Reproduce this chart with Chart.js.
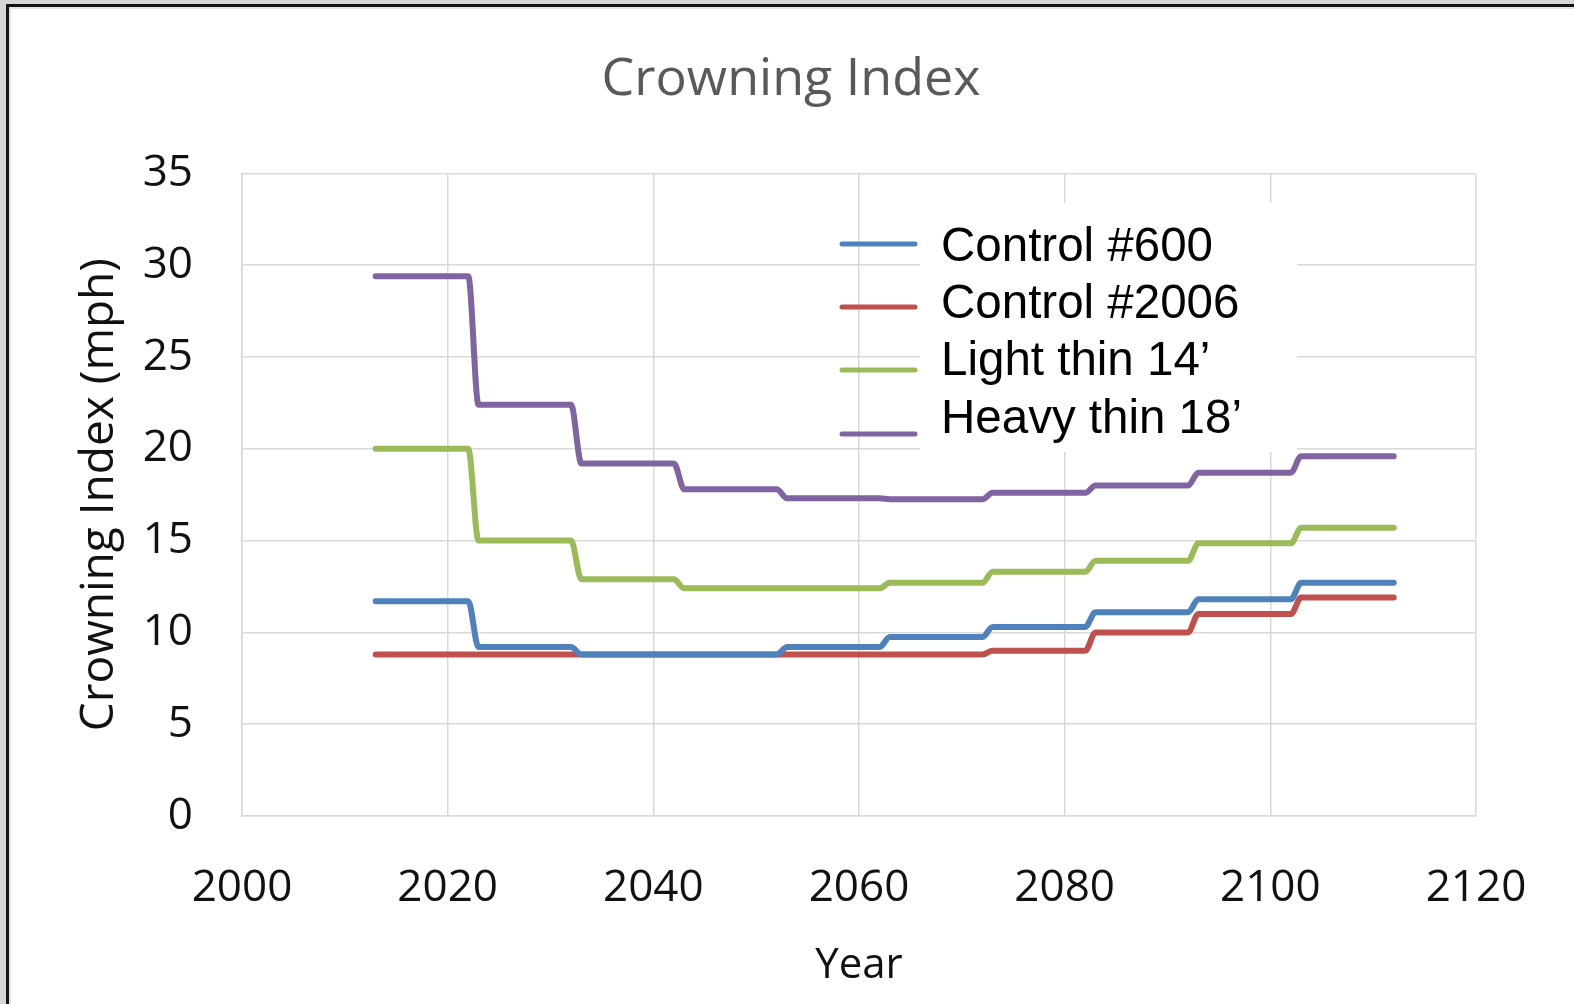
<!DOCTYPE html>
<html>
<head>
<meta charset="utf-8">
<title>Crowning Index</title>
<script src="https://cdn.jsdelivr.net/npm/chart.js@4.4.1/dist/chart.umd.min.js"></script>
<style>
  body { margin: 0; background: #d6d6d6; width: 1574px; height: 1004px; overflow: hidden; position: relative; }
  #frame { position: absolute; left: 6px; top: 4px; width: 1568px; height: 1000px; background: #fff;
           border-left: 3px solid #151515; border-top: 3px solid #151515; box-shadow: inset 2px 2px 0 #e4e4e4; }
  #wrap { position: absolute; left: 8px; top: 6px; width: 1566px; height: 998px; }
</style>
</head>
<body>
<div id="frame"></div>
<div id="wrap"><canvas id="chart" width="1566" height="998"></canvas></div>
<script>
// each management period is a flat step: start year .. end year
var segStart = [2013, 2023, 2033, 2043, 2053, 2063, 2073, 2083, 2093, 2103];
var segEnd   = [2022, 2032, 2042, 2052, 2062, 2072, 2082, 2092, 2102, 2112];

var seriesNames = ["Control #600", "Control #2006", "Light thin 14\u2019", "Heavy thin 18\u2019"];
var control600  = [11.7, 9.2, 8.8, 8.8, 9.2, 9.75, 10.3, 11.1, 11.8, 12.7];
var control2006 = [8.8, 8.8, 8.8, 8.8, 8.8, 8.8, 9.0, 10.0, 11.0, 11.9];
var lightThin   = [20.0, 15.0, 12.9, 12.4, 12.4, 12.7, 13.3, 13.9, 14.85, 15.7];
var heavyThin   = [29.4, 22.4, 19.2, 17.8, 17.3, 17.25, 17.6, 18.0, 18.7, 19.6];
var seriesColors = ["#4f81bd", "#c0504d", "#9bbb59", "#8064a2"];

var xTicks = [2000, 2020, 2040, 2060, 2080, 2100, 2120];
var yTicks = [0, 5, 10, 15, 20, 25, 30, 35];

function stepPoints(values) {
  var pts = [];
  for (let i = 0; i < values.length; i++) {
    pts.push({x: segStart[i], y: values[i]});
    pts.push({x: segEnd[i], y: values[i]});
  }
  return pts;
}

var allSeries = [control600, control2006, lightThin, heavyThin];
var datasets = allSeries.map(function(vals, i) {
  return {
    label: seriesNames[i],
    data: stepPoints(vals),
    borderColor: seriesColors[i],
    backgroundColor: seriesColors[i],
    borderWidth: 6,
    borderCapStyle: "round",
    borderJoinStyle: "round",
    pointRadius: 0,
    cubicInterpolationMode: "monotone"
  };
});

// legend drawn inside the plot, excel style (white box behind the text only)
var insideLegend = {
  id: "insideLegend",
  afterDraw: function(chart) {
    let ctx = chart.ctx;
    ctx.save();
    ctx.fillStyle = "#fff";
    ctx.fillRect(912, 197, 377, 249);
    let lineY = [238, 301, 364, 428];
    let textY = [255, 312, 369, 427];
    ctx.font = "47.5px 'Liberation Sans', Arial, sans-serif";
    ctx.textBaseline = "alphabetic";
    ctx.textAlign = "left";
    chart.data.datasets.forEach(function(ds, i) {
      ctx.strokeStyle = ds.borderColor;
      ctx.lineWidth = 5;
      ctx.lineCap = "round";
      ctx.beginPath();
      ctx.moveTo(834, lineY[i]);
      ctx.lineTo(907, lineY[i]);
      ctx.stroke();
      ctx.fillStyle = "#000";
      ctx.fillText(ds.label, 933, textY[i]);
    });
    ctx.restore();
  }
};

var gridColor = "#d9d9d9";

new Chart(document.getElementById("chart"), {
  type: "line",
  data: { datasets: datasets },
  plugins: [insideLegend],
  options: {
    responsive: false,
    animation: false,
    layout: { padding: 0 },
    plugins: {
      legend: { display: false },
      tooltip: { enabled: false },
      title: {
        display: true,
        text: "Crowning Index",
        color: "#595959",
        font: { family: "'Open Sans'", size: 52, weight: "normal", lineHeight: 1.2 },
        padding: { top: 43, bottom: 62 }
      }
    },
    scales: {
      x: {
        type: "linear",
        min: 2000,
        max: 2120,
        afterBuildTicks: function(scale) { scale.ticks = xTicks.map(v => ({value: v})); },
        afterFit: function(scale) { scale.height = 188; },
        grid: { color: gridColor, lineWidth: 1.5, drawTicks: false },
        border: { color: gridColor, width: 1.5 },
        ticks: {
          color: "#111",
          padding: 46,
          font: { family: "'Open Sans'", size: 44 },
          maxRotation: 0,
          callback: function(v) { return String(v); }
        },
        title: {
          display: true,
          text: "Year",
          color: "#111",
          font: { family: "'Open Sans'", size: 42, lineHeight: 1.2 },
          padding: { top: 0, bottom: 13 }
        }
      },
      y: {
        min: 0,
        max: 35,
        afterBuildTicks: function(scale) { scale.ticks = yTicks.map(v => ({value: v})); },
        afterFit: function(scale) { scale.width = 234; },
        grid: { color: gridColor, lineWidth: 1.5, drawTicks: false },
        border: { color: gridColor, width: 1.5 },
        ticks: {
          color: "#111",
          padding: 49,
          font: { family: "'Open Sans'", size: 44 }
        },
        title: {
          display: true,
          text: "Crowning Index (mph)",
          color: "#111",
          font: { family: "'Open Sans'", size: 46, lineHeight: 1.2 },
          padding: { top: 64, bottom: 0 }
        }
      },
      // empty right-hand axis, only keeps the plot clear of the right edge
      yRight: {
        position: "right",
        min: 0,
        max: 35,
        afterFit: function(scale) { scale.width = 98; },
        grid: { display: false },
        border: { display: false },
        ticks: { display: false }
      }
    }
  }
});
</script>
</body>
</html>
